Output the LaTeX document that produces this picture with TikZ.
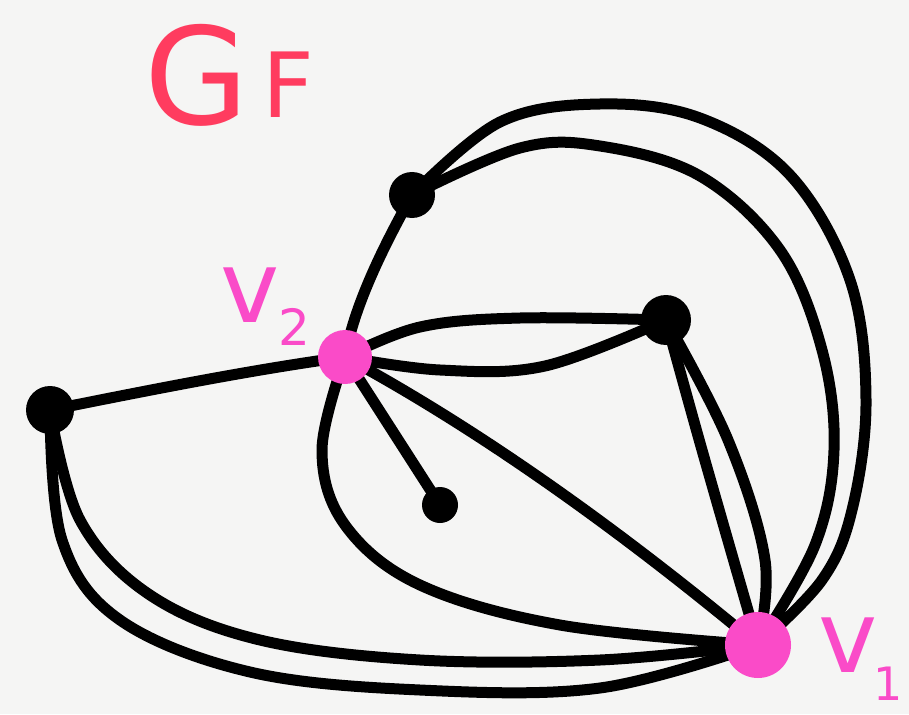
\documentclass[tikz,border=0pt]{standalone}
\usepackage{fontspec}
\setsansfont{DejaVu Sans}
\definecolor{hotpink}{RGB}{250,75,200}
\definecolor{redpink}{RGB}{255,60,95}
\definecolor{paper}{RGB}{245,245,244}
\begin{document}
\begin{tikzpicture}[x=1pt,y=-1pt,
  edge/.style={line width=11pt,line cap=round,line join=round,black},
  bdot/.style={circle,fill=black,inner sep=0pt},
  pdot/.style={circle,fill=hotpink,inner sep=0pt},
  lab/.style={inner sep=0pt,font=\sffamily}]
\fill[paper] (0,0) rectangle (909,714);
\useasboundingbox (0,0) rectangle (909,714);
% vertex positions
\coordinate (a) at (412,195);
\coordinate (v2) at (345,357);
\coordinate (b) at (666,320);
\coordinate (c) at (50,410);
\coordinate (d) at (440,505);
\coordinate (v1) at (758,645);
% edges
\draw[edge] (a) .. controls (390,235) and (355,300) .. (v2);
\draw[edge] plot[smooth,tension=0.6] coordinates {(a) (500,122) (600,104) (700,118) (790,175) (850,280) (866,400) (852,510) (822,580) (v1)};
\draw[edge] plot[smooth,tension=0.6] coordinates {(a) (520,148) (600,146) (700,176) (780,250) (822,350) (834,450) (815,545) (v1)};
\draw[edge] plot[smooth,tension=0.6] coordinates {(v2) (420,327) (520,318) (b)};
\draw[edge] plot[smooth,tension=0.6] coordinates {(v2) (440,370) (545,366) (b)};
\draw[edge] (c) .. controls (150,390) and (250,370) .. (v2);
\draw[edge] (v2) -- (d);
\draw[edge] (v2) .. controls (480,430) and (620,530) .. (v1);
\draw[edge] plot[smooth,tension=0.6] coordinates {(v2) (322,450) (345,525) (420,585) (560,625) (v1)};
\draw[edge] plot[smooth,tension=0.6] coordinates {(b) (702,450) (v1)};
\draw[edge] plot[smooth,tension=0.6] coordinates {(b) (728,440) (765,560) (v1)};
\draw[edge] plot[smooth,tension=0.6] coordinates {(c) (80,520) (150,595) (260,640) (420,660) (600,660) (v1)};
\draw[edge] plot[smooth,tension=0.6] coordinates {(c) (62,540) (120,620) (250,672) (420,690) (600,688) (v1)};
% vertices
\node[bdot,minimum size=46pt] (na) at (a) {};
\node[pdot,minimum size=54pt] (nv2) at (v2) {};
\node[bdot,minimum size=50pt] (nb) at (b) {};
\node[bdot,minimum size=48pt] (nc) at (c) {};
\node[bdot,minimum size=36pt] (nd) at (d) {};
\node[pdot,minimum size=66pt] (nv1) at (v1) {};
% labels
\node[lab,text=redpink,anchor=base] (g) at (197,125) {\fontsize{135}{135}\selectfont G};
\node[lab,text=redpink,anchor=base] (f) at (288,118) {\fontsize{90}{90}\selectfont F};
\node[lab,text=hotpink,anchor=base] (lv2) at (250,322) {\fontsize{100}{100}\selectfont v};
\node[lab,text=hotpink,anchor=base] (lv2s) at (294,345) {\fontsize{50}{50}\selectfont 2};
\node[lab,text=hotpink,anchor=base] (lv1) at (848,672) {\fontsize{100}{100}\selectfont v};
\node[lab,text=hotpink,anchor=base] (lv1s) at (888,700) {\fontsize{46}{46}\selectfont 1};
\end{tikzpicture}
\end{document}
